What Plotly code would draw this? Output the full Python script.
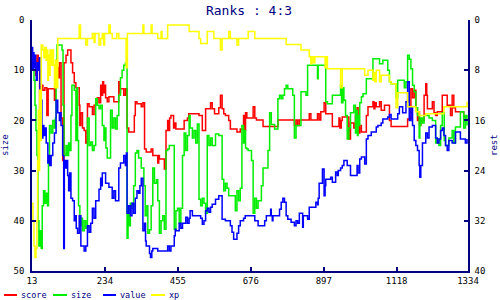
import plotly.graph_objects as go

# ---------------- data ----------------
score_x = [20, 24, 28, 32, 36, 40, 46, 52, 58, 62, 81, 84, 88, 92, 96, 101, 106, 110, 116, 121,
           131, 136, 141, 146, 156, 158, 161, 166, 171, 176, 181, 186, 196, 201, 206, 211, 216, 221, 224, 227,
           230, 233, 236, 241, 246, 261, 276, 279, 281, 291, 296, 301, 306, 323, 326, 331, 344, 349, 354, 359,
           374, 379, 394, 397, 399, 414, 419, 424, 427, 430, 434, 442, 446, 449, 459, 474, 484, 488, 519, 529,
           539, 554, 559, 566, 579, 584, 589, 594, 599, 609, 614, 634, 644, 654, 657, 660, 664, 683, 688, 693,
           713, 758, 808, 813, 818, 823, 853, 858, 878, 883, 888, 898, 903, 923, 943, 946, 950, 953, 973, 978,
           988, 993, 998, 1001, 1006, 1011, 1026, 1031, 1046, 1049, 1052, 1056, 1066, 1071, 1081, 1096, 1101, 1151, 1161, 1166,
           1171, 1176, 1181, 1184, 1187, 1191, 1201, 1206, 1209, 1211, 1226, 1231, 1236, 1241, 1256, 1271, 1281, 1286, 1291, 1296,
           1311, 1321, 1331]
score_y = [8, 11, 7, 10, 18, 13, 14, 13.5, 19, 13.7, 16, 12, 9.5, 11.5, 8.5, 19.5, 28, 8.5, 7, 6,
           8.5, 10.5, 12.5, 13.5, 17, 21, 18.5, 21.5, 22, 24.5, 16.7, 17.3, 18.8, 17, 16.5, 15.5, 16.5, 13, 15, 12.3,
           14.5, 13, 15.5, 16.3, 15.3, 16.3, 12.3, 14.5, 13.7, 15, 13.7, 21.5, 22.3, 19, 16.3, 16.7, 17.3, 16.5, 25.7, 26.3,
           25.7, 27, 28.5, 27, 27.7, 29.7, 22, 20, 22, 19.5, 19, 21.5, 20.5, 21.7, 21.7, 20, 19.5, 18.7, 19, 22,
           17.7, 16.5, 17.7, 18.7, 17.5, 15, 17.7, 18.7, 19, 20, 21.7, 22.3, 21.7, 19, 22, 18.5, 19.5, 17.3, 19.5, 19.9,
           21.2, 19.9, 21, 19.9, 21, 19.9, 18.7, 19.9, 18.7, 19.9, 18.3, 16.5, 18.7, 21.2, 19.5, 21.5, 20, 19.3, 23.7, 20.5,
           21.5, 19, 17.5, 22.5, 21, 22.3, 19, 17.3, 16.3, 17.7, 16.5, 17.3, 16.3, 18, 17, 20, 21.2, 19.7, 13.7, 15.5,
           14, 17.5, 20, 18.3, 21, 20, 15, 12.7, 15, 17.7, 16.3, 18.5, 19, 18.3, 15, 17, 19, 15, 17.5, 18.3,
           18.3, 19.3, 19.3]

size_x = [13, 16, 19, 22, 25, 28, 31, 34, 37, 41, 44, 48, 52, 56, 60, 63, 66, 71, 76, 81,
          84, 86, 89, 104, 107, 110, 116, 120, 124, 128, 131, 134, 141, 146, 149, 151, 154, 158, 161, 166,
          171, 176, 181, 186, 191, 196, 201, 206, 211, 216, 221, 226, 231, 234, 237, 241, 251, 256, 261, 266,
          271, 276, 281, 286, 291, 296, 301, 304, 307, 311, 316, 321, 326, 331, 336, 344, 352, 356, 361, 364,
          369, 374, 379, 384, 390, 394, 399, 404, 409, 414, 419, 424, 429, 444, 449, 454, 459, 464, 469, 474,
          479, 484, 489, 492, 499, 504, 509, 514, 519, 524, 529, 534, 539, 544, 549, 554, 559, 569, 579, 589,
          594, 599, 604, 609, 629, 634, 639, 644, 649, 654, 657, 660, 664, 668, 678, 683, 688, 693, 698, 708,
          713, 728, 733, 738, 748, 758, 763, 768, 773, 778, 783, 788, 803, 808, 813, 828, 843, 848, 878, 880,
          903, 908, 923, 948, 951, 955, 958, 963, 968, 973, 978, 988, 993, 996, 999, 1001, 1004, 1006, 1011, 1016,
          1026, 1046, 1066, 1076, 1091, 1096, 1101, 1116, 1121, 1141, 1146, 1151, 1156, 1161, 1166, 1171, 1176, 1181, 1186, 1188,
          1191, 1196, 1201, 1216, 1226, 1236, 1241, 1246, 1251, 1256, 1262, 1266, 1276, 1286, 1291, 1296, 1311, 1321, 1326, 1331]
size_y = [7, 10, 12, 17, 22, 27, 40, 45, 42, 45.5, 37, 34, 36.5, 34.5, 37, 28, 21, 22.5, 20, 21.5,
          19.5, 8, 5, 6, 17, 27, 25, 27, 24.5, 26, 19, 13, 14, 24, 13.5, 24, 37, 41, 39.5, 42,
          40, 41.5, 19.5, 25, 24.3, 26, 25, 15.7, 17, 17.7, 17, 21, 24, 21.5, 25.5, 27.5, 18, 21.5, 19.5, 21.7,
          19, 15, 11.5, 10, 9, 8.6, 43.5, 37, 41, 36.5, 37.5, 33, 26.5, 26, 27.5, 29.5, 33, 39, 37, 42.5,
          41.8, 37, 29.5, 32.5, 31.8, 36, 42.5, 40, 39, 41.7, 26, 25.7, 25, 41.7, 38, 37.5, 40.5, 37.5, 27, 22.5,
          26, 23, 19, 21.5, 23.5, 22, 24.5, 20.7, 35.7, 37, 35.5, 36.5, 38.5, 23, 25, 23.5, 25, 22.7, 23, 31.7,
          34, 32.5, 33.5, 35, 38, 34, 36, 33.5, 21, 24.5, 22, 25.5, 25.7, 26, 28, 38.5, 35.5, 37.5, 36, 33,
          29.5, 26, 18.5, 20.8, 21.7, 15.7, 15, 15.7, 15, 13.7, 13, 13.7, 15, 23.5, 21, 14.3, 15, 9, 11.7, 9,
          16.3, 16.7, 15, 13, 16.5, 13.5, 16, 19, 23.7, 21.5, 18.5, 17, 22.5, 18, 23, 19, 21, 16.5, 15.3, 14.7,
          11.7, 7.7, 8.7, 8, 10, 12.3, 12.7, 15.5, 12, 13.5, 12.3, 7, 7.8, 9.7, 13, 14.3, 17.5, 19, 23.5, 21,
          19.5, 20.5, 19, 19.5, 20, 24.5, 23.7, 25, 21, 18.5, 24, 25, 23.5, 22, 24.5, 21.3, 18.3, 21.5, 19, 21]

value_x = [13, 15, 17, 19, 21, 24, 26, 29, 32, 35, 37, 39, 41, 43, 46, 49, 52, 56, 61, 64,
           67, 71, 76, 81, 86, 91, 96, 99, 101, 106, 109, 111, 114, 117, 121, 124, 127, 131, 136, 141,
           144, 147, 151, 156, 161, 171, 176, 181, 186, 191, 196, 201, 206, 216, 221, 224, 226, 236, 246, 256,
           261, 266, 276, 281, 291, 296, 299, 301, 306, 311, 316, 321, 326, 331, 336, 340, 344, 349, 354, 357,
           359, 369, 372, 376, 379, 394, 424, 429, 434, 444, 447, 449, 459, 464, 469, 479, 484, 489, 492, 499,
           504, 524, 529, 534, 539, 544, 549, 554, 559, 569, 579, 589, 599, 614, 619, 624, 634, 639, 644, 654,
           659, 688, 698, 718, 723, 736, 738, 741, 743, 763, 768, 773, 778, 783, 788, 798, 808, 813, 818, 823,
           833, 835, 848, 853, 873, 878, 880, 883, 893, 898, 901, 903, 918, 923, 933, 938, 941, 948, 953, 958,
           968, 978, 998, 1001, 1006, 1011, 1021, 1026, 1031, 1041, 1056, 1061, 1071, 1076, 1091, 1096, 1101, 1121, 1126, 1136,
           1146, 1151, 1156, 1161, 1166, 1171, 1176, 1181, 1186, 1188, 1191, 1196, 1206, 1211, 1216, 1226, 1236, 1241, 1246, 1251,
           1256, 1261, 1266, 1271, 1276, 1286, 1296, 1311, 1326, 1331]
value_y = [5.5, 10, 6.5, 9.5, 7, 10, 12, 8.5, 10, 7.5, 14, 22, 16, 23.5, 21, 23, 21.5, 24.5, 28.5, 27,
           29, 27, 24.5, 22.5, 16, 18.5, 20, 18.5, 21, 27, 45.5, 28, 29.5, 28, 31, 34, 30.5, 35.5, 36, 40,
           39, 41.5, 42.5, 39, 45, 46, 45, 41, 42.3, 40.5, 37.5, 39.5, 36, 33.7, 31.5, 33, 30.5, 32.5, 33.3, 35.5,
           34, 36, 29.5, 28.5, 27, 29, 26.5, 38.5, 37, 39, 36.5, 38.5, 35.5, 34, 34.5, 33, 31.5, 42, 40.5, 44,
           45, 46.5, 47.3, 46, 45.5, 46, 45, 46, 45, 43, 41.7, 42, 40.5, 41.5, 40.5, 39.3, 40.5, 39.5, 38, 39,
           39, 39.5, 40.7, 40, 38, 37.5, 38.3, 37.3, 36.7, 35.7, 35, 39.7, 40, 41, 42.3, 43.7, 42.5, 41, 40, 39.5,
           39, 40, 41, 40, 39, 37.7, 39, 40, 39, 37.7, 36.3, 35.5, 36.3, 39, 39.7, 40.3, 41, 40, 40.5, 38.5,
           41.3, 39, 39.7, 37.3, 36.3, 36.8, 35.5, 32.5, 29.7, 35, 33, 31.7, 31.3, 32.3, 30.3, 31, 30, 29.5, 29, 28,
           29, 31, 29, 30.5, 27.7, 27.3, 28.7, 23.7, 23, 22.3, 21.3, 21, 20.5, 19.7, 19.3, 18.8, 19.7, 18.7, 17.3, 18.5,
           16.3, 12.3, 20, 17.5, 21, 24, 25, 26, 29, 31.3, 29, 24.5, 22.5, 23.5, 21.3, 21, 23.5, 24.5, 23.7, 22,
           21.5, 23, 25, 26, 24, 24.5, 22.3, 23.7, 24.5, 23.7]

xp_x = [13, 16, 19, 22, 25, 28, 30, 32, 34, 36, 38, 41, 46, 49, 52, 56, 58, 61, 63, 66,
        68, 71, 74, 78, 81, 84, 87, 91, 156, 160, 176, 181, 196, 201, 204, 216, 221, 226, 230, 233,
        246, 250, 256, 270, 276, 298, 302, 349, 352, 374, 377, 394, 404, 407, 424, 489, 519, 524, 544, 564,
        584, 589, 609, 614, 634, 639, 668, 688, 783, 828, 853, 858, 861, 866, 870, 901, 904, 908, 948, 953,
        1021, 1031, 1046, 1049, 1052, 1056, 1066, 1071, 1096, 1101, 1116, 1121, 1151, 1176, 1186, 1206, 1261, 1331]
xp_y = [36.5, 40, 45, 47.3, 45.5, 40, 28, 18, 30, 14, 24, 5, 6, 7.5, 5.5, 8, 6, 12, 7, 11,
        6, 9, 6, 9, 13.5, 8, 13.5, 3.7, 1, 3.7, 5, 3.7, 2.7, 4.5, 2.7, 5, 3.7, 2.7, 5, 2.7,
        1, 2.7, 3.7, 2.7, 3.7, 9.5, 2.7, 1, 2.7, 1, 2.7, 3.7, 2.3, 3.7, 1, 2.3, 3.7, 4.7, 2.3, 3.7,
        6, 3.7, 2.3, 3.7, 5, 3.7, 2.3, 3.7, 4.9, 6, 7.3, 8.7, 7.3, 8.5, 7.3, 9.5, 7.3, 9.7, 13.5, 9.7,
        11, 10, 12, 10.5, 12.3, 10, 12.3, 11, 12.3, 12.7, 17.5, 14.5, 17.3, 18.3, 19, 18.7, 17.3, 16.3]

series_names = ["score", "size", "value", "xp"]
series_colors = ["#ff0000", "#00ee00", "#0000ff", "#ffff00"]
x_ticks = [13, 234, 455, 676, 897, 1118, 1334]
left_ticks = [0, 10, 20, 30, 40, 50]
right_ticks = [0, 8, 16, 24, 32, 40]
title_text = "Ranks : 4:3"
left_title = "size"
right_title = "rest"

# ---------------- figure ----------------
NAVY = "#000080"
MONO = "DejaVu Sans Mono"
W, H = 500, 300
ML, MR, MT, MB = 32, 32, 20, 29
PW, PH = W - ML - MR, H - MT - MB


def px2paper_x(px):
    return (px - ML) / PW


def py2paper_y(py):
    return (H - MB - py) / PH


fig = go.Figure()
for name, color, xs, ys in zip(series_names, series_colors,
                               [score_x, size_x, value_x, xp_x],
                               [score_y, size_y, value_y, xp_y]):
    fig.add_trace(go.Scatter(x=xs, y=ys, mode="lines", name=name,
                             line=dict(color=color, width=1.5, shape="hv"),
                             showlegend=False, hoverinfo="skip"))

# empty trace so that the right-hand axis ("rest") is drawn with its ticks
fig.add_trace(go.Scatter(x=[None], y=[None], yaxis="y2", mode="lines",
                         showlegend=False, hoverinfo="skip"))

axis_common = dict(showline=True, linecolor=NAVY, linewidth=1.5, ticks="inside",
                   ticklen=4, tickwidth=1.5, tickcolor=NAVY, showgrid=False, zeroline=False,
                   tickfont=dict(family=MONO, size=9, color="black"))

fig.update_layout(
    width=W, height=H,
    margin=dict(l=ML, r=MR, t=MT, b=MB, pad=0),
    paper_bgcolor="white", plot_bgcolor="white",
    title=dict(text=title_text, x=0.498, xref="container", xanchor="center",
               y=1 - 10 / H, yanchor="middle",
               font=dict(family=MONO, size=13, color=NAVY)),
    xaxis=dict(range=[13, 1334], tickvals=x_ticks, ticktext=[str(v) for v in x_ticks], **axis_common),
    yaxis=dict(range=[50, 0], tickvals=left_ticks, ticklabelstandoff=4, **axis_common),
    yaxis2=dict(range=[40, 0], tickvals=right_ticks, overlaying="y", side="right",
                ticklabelstandoff=3, **axis_common),
    showlegend=False,
)

annotations = [
    dict(text=left_title, x=px2paper_x(5), y=py2paper_y(145), xref="paper", yref="paper",
         textangle=-90, showarrow=False, xanchor="center", yanchor="middle",
         font=dict(family=MONO, size=9, color=NAVY)),
    dict(text=right_title, x=px2paper_x(494), y=py2paper_y(145), xref="paper", yref="paper",
         textangle=-90, showarrow=False, xanchor="center", yanchor="middle",
         font=dict(family=MONO, size=9, color=NAVY)),
]
shapes = []
legend_lines = [(4, 17), (53, 67), (103, 116), (151, 165)]
legend_py = 295
for (x0, x1), name, color in zip(legend_lines, series_names, series_colors):
    shapes.append(dict(type="line", xref="paper", yref="paper",
                       x0=px2paper_x(x0), x1=px2paper_x(x1),
                       y0=py2paper_y(legend_py), y1=py2paper_y(legend_py),
                       line=dict(color=color, width=2)))
    annotations.append(dict(text=name, x=px2paper_x(x1 + 2), y=py2paper_y(legend_py),
                            xref="paper", yref="paper", showarrow=False,
                            xanchor="left", yanchor="middle",
                            font=dict(family=MONO, size=8.5, color=NAVY)))

fig.update_layout(annotations=annotations, shapes=shapes)
fig.write_html("out.html")
